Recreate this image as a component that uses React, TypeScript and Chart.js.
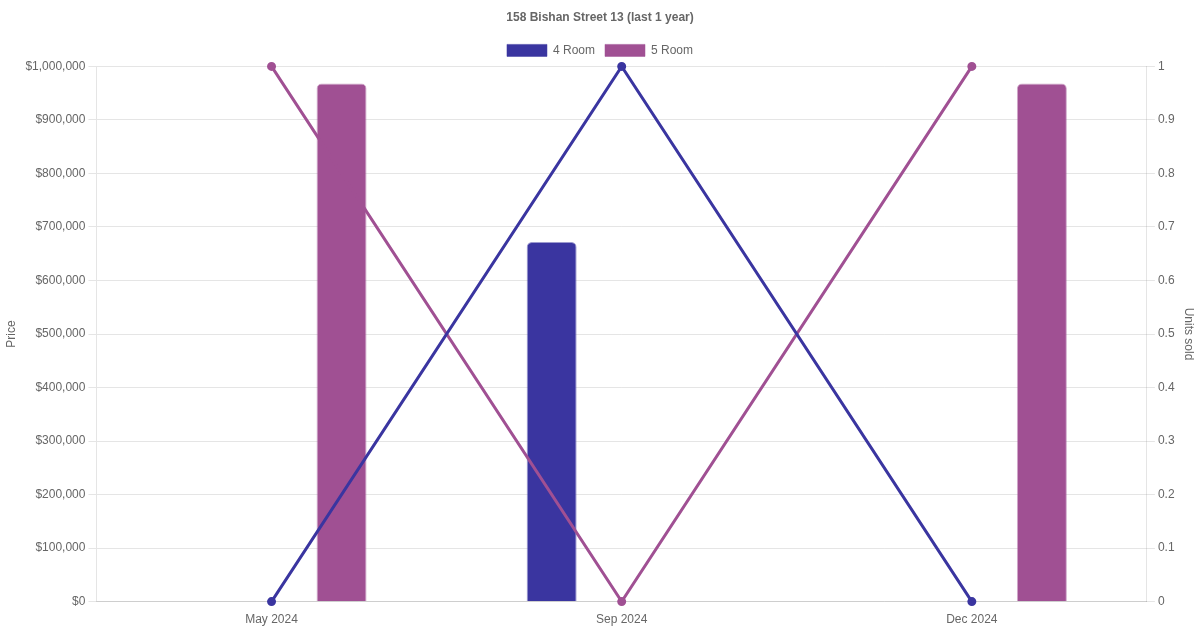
import React, { useEffect, useRef } from 'react';
import Chart from 'chart.js/auto';

const months = ['May 2024', 'Sep 2024', 'Dec 2024'];
const price4Room = [null, 672000, null];
const price5Room = [968000, null, 968000];
const units4Room = [0, 1, 0];
const units5Room = [1, 0, 1];

const COLOR_4 = '#3a35a0';
const COLOR_5 = '#a05093';

const App: React.FC = () => {
  const canvasRef = useRef<HTMLCanvasElement>(null);

  useEffect(() => {
    document.body.style.margin = '0';
    const canvas = canvasRef.current;
    let chart: Chart | null = null;

    if (canvas) {
      chart = new Chart(canvas, {
        type: 'bar',
        data: {
          labels: months,
          datasets: [
            {
              type: 'line',
              label: '4 Room units',
              data: units4Room,
              yAxisID: 'units',
              borderColor: COLOR_4,
              backgroundColor: COLOR_4,
              borderWidth: 3,
              pointRadius: 3,
              clip: false,
              order: 0,
            },
            {
              type: 'line',
              label: '5 Room units',
              data: units5Room,
              yAxisID: 'units',
              borderColor: COLOR_5,
              backgroundColor: COLOR_5,
              borderWidth: 3,
              pointRadius: 3,
              clip: false,
              order: 0,
            },
            {
              type: 'bar',
              label: '4 Room',
              data: price4Room,
              yAxisID: 'price',
              backgroundColor: COLOR_4,
              borderColor: 'rgba(58,53,160,0.5)',
              borderWidth: 1,
              borderRadius: 5,
              maxBarThickness: 50,
              order: 1,
            },
            {
              type: 'bar',
              label: '5 Room',
              data: price5Room,
              yAxisID: 'price',
              backgroundColor: COLOR_5,
              borderColor: 'rgba(160,80,147,0.5)',
              borderWidth: 1,
              borderRadius: 5,
              maxBarThickness: 50,
              order: 1,
            },
          ],
        },
        options: {
          animation: false,
          responsive: false,
          plugins: {
            title: {
              display: true,
              text: '158 Bishan Street 13 (last 1 year)',
              color: '#666',
              font: { size: 12, weight: 'bold' },
            },
            legend: {
              labels: {
                color: '#666',
                filter: (item) => item.text === '4 Room' || item.text === '5 Room',
              },
            },
          },
          scales: {
            x: {
              grid: { display: false },
              ticks: { color: '#666' },
            },
            price: {
              type: 'linear',
              position: 'left',
              min: 0,
              max: 1000000,
              ticks: {
                stepSize: 100000,
                color: '#666',
                callback: (v) => '$' + Number(v).toLocaleString('en-US'),
              },
              title: { display: true, text: 'Price', color: '#666' },
            },
            units: {
              type: 'linear',
              position: 'right',
              min: 0,
              max: 1,
              ticks: {
                stepSize: 0.1,
                color: '#666',
                callback: (v) => String(Math.round(Number(v) * 10) / 10),
              },
              grid: { drawOnChartArea: false },
              title: { display: true, text: 'Units sold', color: '#666' },
            },
          },
        },
      });
    }

    return () => {
      if (chart) {
        chart.destroy();
      }
    };
  }, []);

  return (
    <div style={{ width: 1200, height: 630 }}>
      <canvas ref={canvasRef} width={1200} height={630}></canvas>
    </div>
  );
};

export default App;
